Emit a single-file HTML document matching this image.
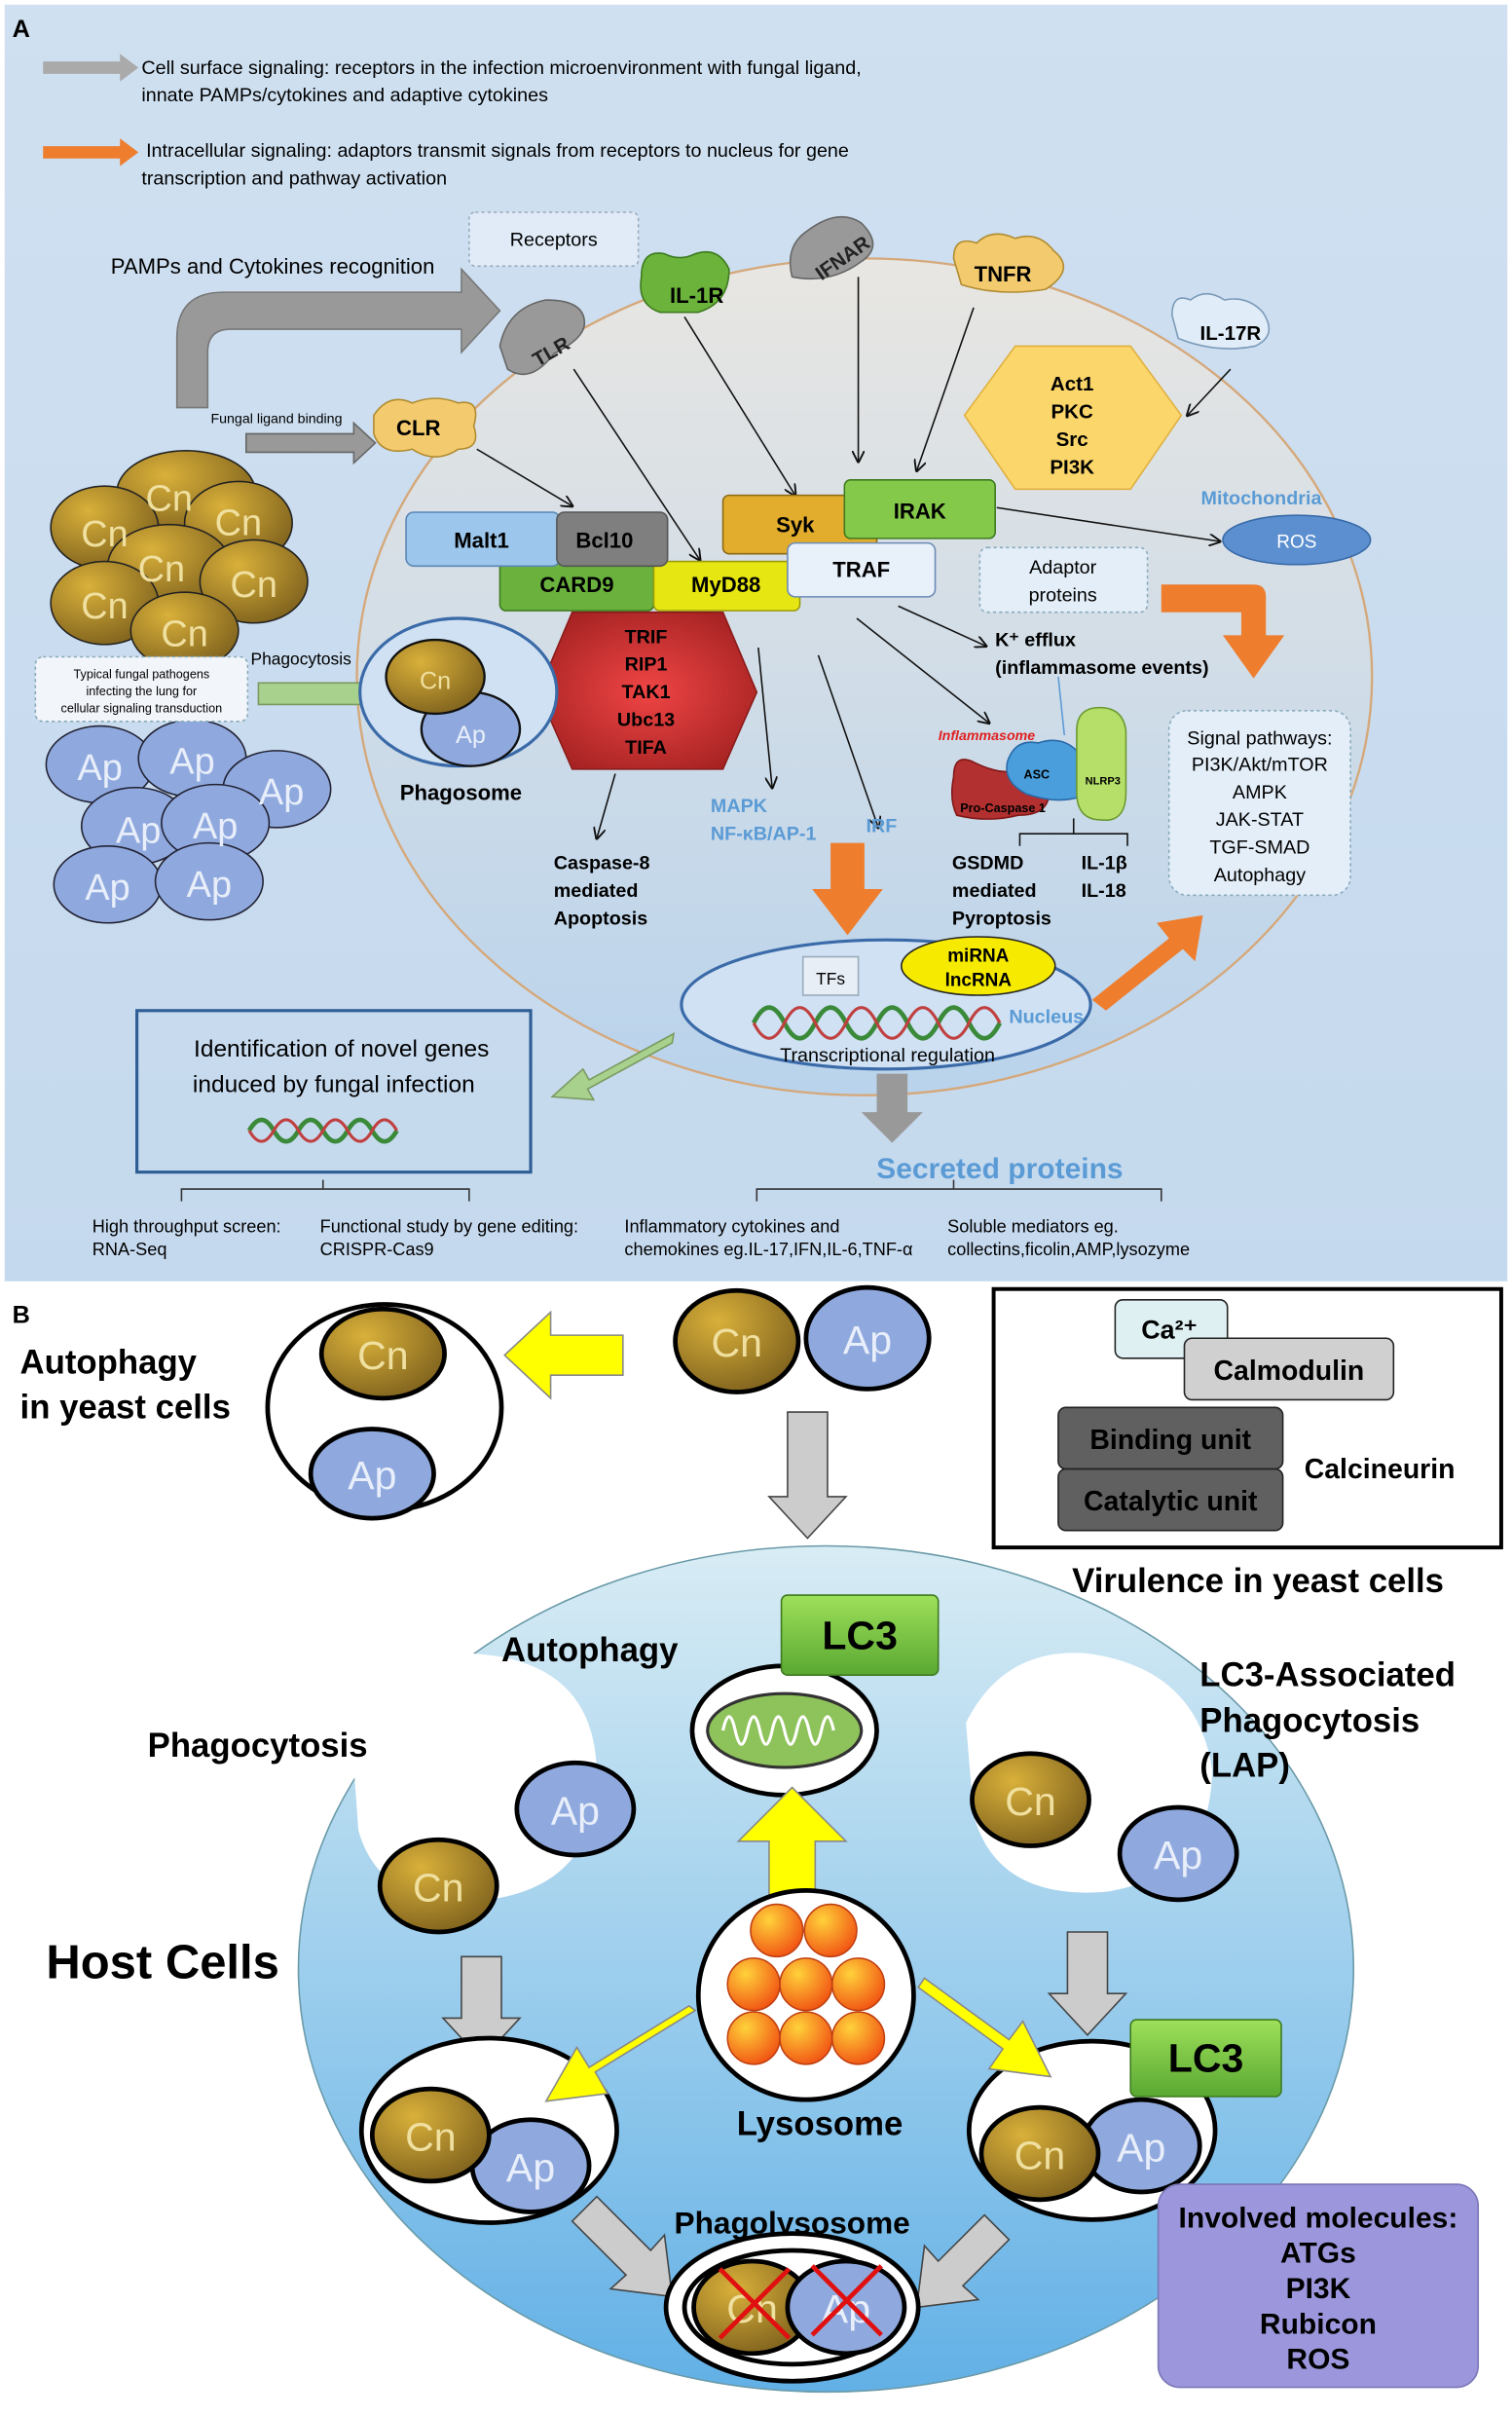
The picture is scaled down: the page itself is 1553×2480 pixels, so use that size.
<!DOCTYPE html>
<html><head><meta charset="utf-8"><style>
html,body{margin:0;padding:0;background:#fff}
svg{display:block}
text{font-family:"Liberation Sans",sans-serif}
</style></head><body>
<svg width="1553" height="2480" viewBox="0 0 983 1570" preserveAspectRatio="none" xmlns="http://www.w3.org/2000/svg">
<defs>
<linearGradient id="bgA" x1="0" y1="0" x2="0" y2="1"><stop offset="0" stop-color="#cfe0f0"/><stop offset="1" stop-color="#c5d9ee"/></linearGradient>
<linearGradient id="cell" x1="0" y1="0" x2="0" y2="1"><stop offset="0" stop-color="#e8e6e2"/><stop offset="1" stop-color="#b9d3ec"/></linearGradient>
<linearGradient id="host" x1="0" y1="0" x2="0" y2="1"><stop offset="0" stop-color="#d8ecf4"/><stop offset="1" stop-color="#62b0e6"/></linearGradient>
<radialGradient id="cn" cx="0.35" cy="0.3" r="0.8"><stop offset="0" stop-color="#d9b03a"/><stop offset="1" stop-color="#7a5e1c"/></radialGradient>
<radialGradient id="red" cx="0.5" cy="0.5" r="0.6"><stop offset="0" stop-color="#f04545"/><stop offset="1" stop-color="#a52222"/></radialGradient>
<radialGradient id="lys" cx="0.35" cy="0.3" r="0.8"><stop offset="0" stop-color="#ffd23a"/><stop offset="1" stop-color="#f04a10"/></radialGradient>
<linearGradient id="lc3" x1="0" y1="0" x2="0" y2="1"><stop offset="0" stop-color="#9ee05a"/><stop offset="1" stop-color="#5aa832"/></linearGradient>
<marker id="ar" markerWidth="8" markerHeight="8" refX="7" refY="4" orient="auto"><path d="M0,0 L8,4 L0,8" fill="none" stroke="#111" stroke-width="1.2"/></marker>
</defs>

<!-- PANEL A -->
<rect x="3" y="3" width="977" height="830" fill="url(#bgA)"/>
<text x="8" y="24" font-size="16" font-weight="bold">A</text>
<path d="M28,40 h50 v-5 l12,9 l-12,9 v-5 h-50z" fill="#aaa"/>
<text x="92" y="48" font-size="12.5">Cell surface signaling: receptors in the infection microenvironment with fungal ligand,</text>
<text x="92" y="66" font-size="12.5">innate PAMPs/cytokines and adaptive cytokines</text>
<path d="M28,95 h50 v-5 l12,9 l-12,9 v-5 h-50z" fill="#ee7d2e"/>
<text x="95" y="102" font-size="12.5">Intracellular signaling: adaptors transmit signals from receptors to nucleus for gene</text>
<text x="92" y="120" font-size="12.5">transcription and pathway activation</text>

<ellipse cx="562" cy="440" rx="330" ry="272" fill="url(#cell)" stroke="#d5a87a" stroke-width="1.5"/>
<text x="72" y="178" font-size="14">PAMPs and Cytokines recognition</text>
<path d="M115,265 v-45 q0,-30 30,-30 h155 v-15 l25,27 l-25,27 v-15 h-150 q-15,0 -15,15 v36z" fill="#999" stroke="#777"/>
<rect x="305" y="138" width="110" height="35" rx="4" fill="#e0ebf7" stroke="#9ab" stroke-dasharray="2,2"/>
<text x="360" y="160" font-size="12.5" text-anchor="middle">Receptors</text>
<text x="137" y="275" font-size="9">Fungal ligand binding</text>
<path d="M160,282 h70 v-7 l14,13 l-14,13 v-7 h-70z" fill="#999" stroke="#666"/>

<!-- receptors -->
<path d="M243,270 q10,-15 25,-8 q15,-6 30,0 q15,-3 10,15 q5,15 -10,15 q-15,10 -30,0 q-20,5 -25,-10z" fill="#f3cb6e" stroke="#b08b30"/>
<text x="272" y="283" font-size="14" font-weight="bold" text-anchor="middle">CLR</text>
<path d="M325,225 q5,-25 30,-30 q25,0 25,15 q0,10 -20,20 q-15,20 -30,10z" fill="#999" stroke="#666"/>
<text x="358" y="233" font-size="13" font-weight="bold" transform="rotate(-30 358 228)" text-anchor="middle" fill="#222">TLR</text>
<path d="M417,180 q0,-18 15,-15 q10,5 20,0 q15,-5 22,10 q0,22 -20,28 h-25 q-15,-5 -12,-23z" fill="#6bb33a" stroke="#3d7a1f"/>
<text x="453" y="197" font-size="14" font-weight="bold" text-anchor="middle">IL-1R</text>
<path d="M515,180 q-5,-20 10,-30 q20,-15 35,-5 q15,15 0,25 q-20,15 -45,10z" fill="#999" stroke="#666"/>
<text x="548" y="172" font-size="13" font-weight="bold" transform="rotate(-35 548 168)" text-anchor="middle" fill="#222">IFNAR</text>
<path d="M620,168 q0,-15 15,-10 q10,-10 25,-3 q15,-5 25,8 q15,12 -5,25 q-30,5 -55,-3z" fill="#f3cb6e" stroke="#b08b30"/>
<text x="652" y="183" font-size="14" font-weight="bold" text-anchor="middle">TNFR</text>
<path d="M762,205 q0,-15 12,-10 q10,-8 22,0 q15,-3 25,8 q10,15 -5,22 q-25,5 -50,-5z" fill="#e0ecf8" stroke="#7a9ab8"/>
<text x="800" y="221" font-size="13" font-weight="bold" text-anchor="middle">IL-17R</text>

<!-- arrows -->
<g stroke="#111" stroke-width="1" marker-end="url(#ar)" fill="none">
<line x1="310" y1="292" x2="372" y2="329"/>
<line x1="373" y1="240" x2="455" y2="364"/>
<line x1="445" y1="206" x2="517" y2="322"/>
<line x1="558" y1="180" x2="558" y2="300"/>
<line x1="633" y1="200" x2="596" y2="306"/>
<line x1="800" y1="240" x2="772" y2="270"/>
<line x1="648" y1="330" x2="793" y2="352"/>
<line x1="400" y1="503" x2="388" y2="545"/>
<line x1="493" y1="421" x2="502" y2="512"/>
<line x1="532" y1="426" x2="571" y2="538"/>
<line x1="557" y1="402" x2="643" y2="470"/>
<line x1="584" y1="394" x2="641" y2="420"/>
</g>
<line x1="688" y1="440" x2="692" y2="478" stroke="#5b9bd5" stroke-width="1"/>

<!-- hexagons -->
<polygon points="660,225 735,225 768,270 735,318 660,318 627,270" fill="#fbd66a" stroke="#e0b040"/>
<g font-size="13" font-weight="bold" text-anchor="middle"><text x="697" y="254">Act1</text><text x="697" y="272">PKC</text><text x="697" y="290">Src</text><text x="697" y="308">PI3K</text></g>
<polygon points="372,398 470,398 492,450 470,500 372,500 350,450" fill="url(#red)" stroke="#8a1a1a"/>
<g font-size="12.5" font-weight="bold" text-anchor="middle"><text x="420" y="418">TRIF</text><text x="420" y="436">RIP1</text><text x="420" y="454">TAK1</text><text x="420" y="472">Ubc13</text><text x="420" y="490">TIFA</text></g>

<!-- adaptor boxes -->
<rect x="325" y="365" width="100" height="32" rx="4" fill="#6ab23d" stroke="#3d7a1f"/>
<text x="375" y="385" font-size="14" font-weight="bold" text-anchor="middle">CARD9</text>
<rect x="425" y="365" width="95" height="32" rx="4" fill="#e6e612" stroke="#9a9a10"/>
<text x="472" y="385" font-size="14" font-weight="bold" text-anchor="middle">MyD88</text>
<rect x="264" y="333" width="100" height="35" rx="5" fill="#9cc6eb" stroke="#5a86b5"/>
<text x="313" y="356" font-size="14" font-weight="bold" text-anchor="middle">Malt1</text>
<rect x="362" y="333" width="72" height="35" rx="5" fill="#7f7f7f" stroke="#555"/>
<text x="393" y="356" font-size="14" font-weight="bold" text-anchor="middle">Bcl10</text>
<rect x="470" y="322" width="100" height="38" rx="4" fill="#e2ac2c" stroke="#8a6a15"/>
<text x="517" y="346" font-size="14" font-weight="bold" text-anchor="middle">Syk</text>
<rect x="512" y="353" width="96" height="35" rx="5" fill="#e8f0fa" stroke="#6a8ab5"/>
<text x="560" y="375" font-size="14" font-weight="bold" text-anchor="middle">TRAF</text>
<rect x="549" y="312" width="98" height="38" rx="4" fill="#85c94a" stroke="#3d7a1f"/>
<text x="598" y="337" font-size="14" font-weight="bold" text-anchor="middle">IRAK</text>

<text x="820" y="328" font-size="12.5" fill="#5b9bd5" text-anchor="middle" font-weight="bold">Mitochondria</text>
<ellipse cx="843" cy="351" rx="48" ry="16" fill="#5b8fd0" stroke="#3a6aa8"/>
<text x="843" y="356" font-size="12" fill="#fff" text-anchor="middle">ROS</text>
<rect x="637" y="356" width="109" height="42" rx="5" fill="#e4eef8" stroke="#8ab" stroke-dasharray="2,2"/>
<text x="691" y="373" font-size="12.5" text-anchor="middle">Adaptor</text>
<text x="691" y="391" font-size="12.5" text-anchor="middle">proteins</text>
<path d="M755,380 h60 q8,0 8,8 v25 h12 l-20,28 l-20,-28 h12 v-15 h-52z" fill="#ee7d2e"/>
<text x="647" y="420" font-size="12.5" font-weight="bold">K⁺ efflux</text>
<text x="647" y="438" font-size="12.5" font-weight="bold">(inflammasome events)</text>

<!-- inflammasome -->
<text x="610" y="481" font-size="9" fill="#e02020" font-style="italic" font-weight="bold">Inflammasome</text>
<path d="M620,505 q0,-15 12,-10 q20,10 30,5 q10,15 20,15 q0,15 -20,15 q-20,5 -40,0 q-5,-10 -2,-25z" fill="#b23030" stroke="#801818"/>
<text x="652" y="528" font-size="8" text-anchor="middle" font-weight="bold">Pro-Caspase 1</text>
<path d="M655,495 q5,-15 20,-12 q15,-5 25,5 q5,15 2,30 q-15,5 -35,-2 q-15,-8 -12,-21z" fill="#4a9edb" stroke="#2a6aa8"/>
<text x="674" y="506" font-size="8" font-weight="bold" text-anchor="middle">ASC</text>
<path d="M700,475 q0,-15 15,-15 q15,0 17,15 v40 q0,20 -16,18 q-16,0 -16,-18z" fill="#b6df6a" stroke="#6a9a30"/>
<text x="717" y="510" font-size="7" font-weight="bold" text-anchor="middle">NLRP3</text>
<path d="M663,550 v-8 h70 v8 M698,542 v-10" stroke="#111" fill="none"/>
<g font-size="12.5" font-weight="bold"><text x="619" y="565">GSDMD</text><text x="619" y="583">mediated</text><text x="619" y="601">Pyroptosis</text><text x="703" y="565">IL-1β</text><text x="703" y="583">IL-18</text>
<text x="360" y="565">Caspase-8</text><text x="360" y="583">mediated</text><text x="360" y="601">Apoptosis</text></g>
<g font-size="12.5" font-weight="bold" fill="#5b9bd5"><text x="462" y="528">MAPK</text><text x="462" y="546">NF-κB/AP-1</text><text x="563" y="541">IRF</text></g>

<rect x="760" y="462" width="118" height="120" rx="12" fill="#e4eef8" stroke="#8ab" stroke-dasharray="2,2"/>
<g font-size="12.5" text-anchor="middle"><text x="819" y="484">Signal pathways:</text><text x="819" y="501">PI3K/Akt/mTOR</text><text x="819" y="519">AMPK</text><text x="819" y="537">JAK-STAT</text><text x="819" y="555">TGF-SMAD</text><text x="819" y="573">Autophagy</text></g>

<!-- nucleus -->
<path d="M540,548 h22 v30 h12 l-23,30 l-23,-30 h12z" fill="#ee7d2e"/>
<ellipse cx="576" cy="653" rx="133" ry="42" fill="#cfe1f3" stroke="#3a6aa8" stroke-width="2"/>
<rect x="522" y="622" width="36" height="25" fill="#e8eef6" stroke="#9ab"/>
<text x="540" y="640" font-size="11" text-anchor="middle">TFs</text>
<ellipse cx="636" cy="628" rx="50" ry="19" fill="#f5ea00" stroke="#222"/>
<text x="636" y="625" font-size="12" font-weight="bold" text-anchor="middle">miRNA</text>
<text x="636" y="641" font-size="12" font-weight="bold" text-anchor="middle">lncRNA</text>
<path d="M490,665 q10,-20 20,0 t20,0 t20,0 t20,0 t20,0 t20,0 t20,0 t20,0" stroke="#3a8a3a" stroke-width="3" fill="none"/>
<path d="M490,665 q10,20 20,0 t20,0 t20,0 t20,0 t20,0 t20,0 t20,0 t20,0" stroke="#c04040" stroke-width="2" fill="none"/>
<text x="656" y="665" font-size="12.5" font-weight="bold" fill="#5b9bd5">Nucleus</text>
<text x="577" y="690" font-size="12.5" text-anchor="middle">Transcriptional regulation</text>
<path d="M710,650 l50,-40 l-8,-10 l30,-5 l-5,30 l-8,-8 l-50,40z" fill="#ee7d2e"/>
<path d="M570,698 h20 v25 h10 l-20,20 l-20,-20 h10z" fill="#999"/>
<text x="650" y="766" font-size="19" font-weight="bold" fill="#5b9bd5" text-anchor="middle">Secreted proteins</text>
<path d="M438,672 l-55,30 l-4,-7 l-20,18 l27,2 l-4,-7 l55,-30z" fill="#a9d18e" stroke="#7a9a60"/>
<rect x="89" y="657" width="256" height="105" fill="none" stroke="#2e5e94" stroke-width="2"/>
<text x="222" y="687" font-size="15.5" text-anchor="middle">Identification of novel genes</text>
<text x="217" y="710" font-size="15.5" text-anchor="middle">induced by fungal infection</text>
<path d="M162,735 q8,-14 16,0 t16,0 t16,0 t16,0 t16,0 t16,0" stroke="#3a8a3a" stroke-width="3" fill="none"/>
<path d="M162,735 q8,14 16,0 t16,0 t16,0 t16,0 t16,0 t16,0" stroke="#c04040" stroke-width="2" fill="none"/>
<path d="M118,781 v-8 h187 v8 M210,773 v-6 M492,781 v-8 h263 v8 M620,773 v-6" stroke="#333" fill="none"/>
<g font-size="11.5"><text x="60" y="801" font-family="Liberation Serif">High throughput screen:</text><text x="60" y="816" font-family="Liberation Serif">RNA-Seq</text>
<text x="208" y="801" font-family="Liberation Serif">Functional study by gene editing:</text><text x="208" y="816" font-family="Liberation Serif">CRISPR-Cas9</text>
<text x="406" y="801" font-family="Liberation Serif">Inflammatory cytokines and</text><text x="406" y="816" font-family="Liberation Serif">chemokines eg.IL-17,IFN,IL-6,TNF-α</text>
<text x="616" y="801" font-family="Liberation Serif">Soluble mediators eg.</text><text x="616" y="816" font-family="Liberation Serif">collectins,ficolin,AMP,lysozyme</text></g>

<!-- fungi cluster -->
<g stroke="#222" stroke-width="1">
<ellipse cx="121" cy="320" rx="45" ry="27" fill="url(#cn)"/><ellipse cx="68" cy="343" rx="35" ry="27" fill="url(#cn)"/><ellipse cx="155" cy="340" rx="35" ry="27" fill="url(#cn)"/><ellipse cx="110" cy="368" rx="40" ry="27" fill="url(#cn)"/><ellipse cx="165" cy="378" rx="35" ry="27" fill="url(#cn)"/><ellipse cx="68" cy="392" rx="35" ry="27" fill="url(#cn)"/><ellipse cx="120" cy="410" rx="35" ry="25" fill="url(#cn)"/>
</g>
<g font-size="24" fill="#f0e0a0" text-anchor="middle"><text x="110" y="332">Cn</text><text x="68" y="355">Cn</text><text x="155" y="348">Cn</text><text x="105" y="378">Cn</text><text x="165" y="388">Cn</text><text x="68" y="402">Cn</text><text x="120" y="420">Cn</text></g>
<g stroke="#223" fill="#8fa9de">
<ellipse cx="65" cy="497" rx="35" ry="25"/><ellipse cx="125" cy="493" rx="35" ry="25"/><ellipse cx="180" cy="513" rx="35" ry="25"/><ellipse cx="88" cy="537" rx="35" ry="25"/><ellipse cx="140" cy="535" rx="35" ry="25"/><ellipse cx="70" cy="575" rx="35" ry="25"/><ellipse cx="136" cy="573" rx="35" ry="25"/></g>
<g font-size="24" fill="#e8eefa" text-anchor="middle"><text x="65" y="507">Ap</text><text x="125" y="503">Ap</text><text x="183" y="523">Ap</text><text x="90" y="548">Ap</text><text x="140" y="545">Ap</text><text x="70" y="585">Ap</text><text x="136" y="583">Ap</text></g>
<rect x="23" y="427" width="138" height="42" rx="5" fill="#f2f5fa" stroke="#8ab" stroke-dasharray="2,2"/>
<g font-size="8" text-anchor="middle"><text x="92" y="441">Typical fungal pathogens</text><text x="92" y="452">infecting the lung for</text><text x="92" y="463">cellular signaling transduction</text></g>
<text x="163" y="432" font-size="11">Phagocytosis</text>
<path d="M168,444 h70 v-7 l14,14 l-14,14 v-7 h-70z" fill="#a9d18e" stroke="#7a9a60"/>
<ellipse cx="298" cy="450" rx="64" ry="48" fill="#cfe1f3" stroke="#3a6aa8" stroke-width="2"/>
<ellipse cx="306" cy="474" rx="32" ry="24" fill="#8fa9de" stroke="#111" stroke-width="1.5"/>
<ellipse cx="283" cy="440" rx="32" ry="24" fill="url(#cn)" stroke="#111" stroke-width="1.5"/>
<text x="283" y="448" font-size="16" fill="#f0e0a0" text-anchor="middle">Cn</text>
<text x="306" y="483" font-size="16" fill="#e8eefa" text-anchor="middle">Ap</text>
<text x="260" y="520" font-size="14" font-weight="bold">Phagosome</text>

<!-- PANEL B -->
<text x="8" y="860" font-size="16" font-weight="bold">B</text>
<text x="13" y="893" font-size="22" font-weight="bold">Autophagy</text>
<text x="13" y="922" font-size="22" font-weight="bold">in yeast cells</text>
<ellipse cx="250" cy="915" rx="76" ry="67" fill="#fff" stroke="#000" stroke-width="3"/>
<ellipse cx="249" cy="880" rx="40" ry="29" fill="url(#cn)" stroke="#000" stroke-width="3"/>
<text x="249" y="890" font-size="26" fill="#f0e0a0" text-anchor="middle">Cn</text>
<ellipse cx="242" cy="958" rx="40" ry="29" fill="#8fa9de" stroke="#000" stroke-width="3"/>
<text x="242" y="968" font-size="26" fill="#e8eefa" text-anchor="middle">Ap</text>
<path d="M405,868 h-47 v-15 l-30,28 l30,28 v-15 h47z" fill="#ffff00" stroke="#888"/>
<ellipse cx="479" cy="872" rx="40" ry="33" fill="url(#cn)" stroke="#000" stroke-width="3"/>
<text x="479" y="882" font-size="26" fill="#f0e0a0" text-anchor="middle">Cn</text>
<ellipse cx="564" cy="870" rx="40" ry="33" fill="#8fa9de" stroke="#000" stroke-width="3"/>
<text x="564" y="880" font-size="26" fill="#e8eefa" text-anchor="middle">Ap</text>
<path d="M512,918 h26 v55 h12 l-25,27 l-25,-27 h12z" fill="#ccc" stroke="#444"/>
<rect x="646" y="838" width="330" height="168" fill="#fff" stroke="#000" stroke-width="2.5"/>
<rect x="725" y="845" width="73" height="38" rx="5" fill="#dff0f2" stroke="#222"/>
<text x="742" y="870" font-size="17" font-weight="bold">Ca²⁺</text>
<rect x="770" y="870" width="136" height="40" rx="5" fill="#d0d0d0" stroke="#222"/>
<text x="838" y="897" font-size="18" font-weight="bold" text-anchor="middle">Calmodulin</text>
<rect x="688" y="915" width="146" height="40" rx="5" fill="#606060" stroke="#222"/>
<text x="761" y="942" font-size="18" font-weight="bold" text-anchor="middle">Binding unit</text>
<rect x="688" y="955" width="146" height="40" rx="5" fill="#606060" stroke="#222"/>
<text x="761" y="982" font-size="18" font-weight="bold" text-anchor="middle">Catalytic unit</text>
<text x="848" y="961" font-size="18" font-weight="bold">Calcineurin</text>
<text x="697" y="1035" font-size="22" font-weight="bold">Virulence in yeast cells</text>

<ellipse cx="537" cy="1280" rx="343" ry="275" fill="url(#host)" stroke="#6a9aa8"/>
<text x="30" y="1286" font-size="31" font-weight="bold">Host Cells</text>
<!-- white phagocytosis lobes -->
<path d="M228,1120 q10,-50 80,-45 q80,5 80,80 q0,70 -70,80 q-70,8 -85,-45z" fill="#fff"/>
<path d="M628,1120 q25,-50 80,-45 q70,10 80,75 q0,70 -70,80 q-70,5 -85,-50z" fill="#fff"/>
<text x="96" y="1142" font-size="22" font-weight="bold">Phagocytosis</text>
<text x="326" y="1080" font-size="22" font-weight="bold">Autophagy</text>
<text x="780" y="1096" font-size="22" font-weight="bold">LC3-Associated</text>
<text x="780" y="1126" font-size="22" font-weight="bold">Phagocytosis</text>
<text x="780" y="1155" font-size="22" font-weight="bold">(LAP)</text>
<ellipse cx="374" cy="1176" rx="38" ry="30" fill="#8fa9de" stroke="#000" stroke-width="3"/><text x="374" y="1186" font-size="26" fill="#e8eefa" text-anchor="middle">Ap</text>
<ellipse cx="285" cy="1226" rx="38" ry="30" fill="url(#cn)" stroke="#000" stroke-width="3"/><text x="285" y="1236" font-size="26" fill="#f0e0a0" text-anchor="middle">Cn</text>
<ellipse cx="670" cy="1170" rx="38" ry="30" fill="url(#cn)" stroke="#000" stroke-width="3"/><text x="670" y="1180" font-size="26" fill="#f0e0a0" text-anchor="middle">Cn</text>
<ellipse cx="766" cy="1205" rx="38" ry="30" fill="#8fa9de" stroke="#000" stroke-width="3"/><text x="766" y="1215" font-size="26" fill="#e8eefa" text-anchor="middle">Ap</text>
<!-- mitochondria autophagosome -->
<ellipse cx="510" cy="1125" rx="60" ry="42" fill="#fff" stroke="#000" stroke-width="3"/>
<ellipse cx="510" cy="1125" rx="50" ry="24" fill="#8ec25a" stroke="#333" stroke-width="2"/>
<path d="M470,1125 q4,-18 8,0 t8,0 t8,0 t8,0 t8,0 t8,0 t8,0 t8,0 t8,0" stroke="#fff" stroke-width="2" fill="none"/>
<rect x="508" y="1037" width="102" height="52" rx="4" fill="url(#lc3)" stroke="#3d7a1f"/>
<text x="559" y="1072" font-size="26" font-weight="bold" text-anchor="middle">LC3</text>
<path d="M500,1245 v-48 h-20 l35,-35 l35,35 h-20 v48z" fill="#ffff00" stroke="#888"/>
<ellipse cx="524" cy="1297" rx="70" ry="68" fill="#fff" stroke="#000" stroke-width="3"/>
<g fill="url(#lys)" stroke="#c04010">
<circle cx="505" cy="1255" r="17"/><circle cx="540" cy="1255" r="17"/><circle cx="490" cy="1290" r="17"/><circle cx="524" cy="1290" r="17"/><circle cx="558" cy="1290" r="17"/><circle cx="490" cy="1325" r="17"/><circle cx="524" cy="1325" r="17"/><circle cx="558" cy="1325" r="17"/></g>
<text x="533" y="1388" font-size="22" font-weight="bold" text-anchor="middle">Lysosome</text>
<!-- phagosomes -->
<path d="M300,1272 h26 v40 h12 l-25,27 l-25,-27 h12z" fill="#ccc" stroke="#444"/>
<path d="M694,1256 h26 v40 h12 l-25,27 l-25,-27 h12z" fill="#ccc" stroke="#444"/>
<ellipse cx="318" cy="1385" rx="83" ry="60" fill="#fff" stroke="#000" stroke-width="3"/>
<ellipse cx="345" cy="1408" rx="38" ry="30" fill="#8fa9de" stroke="#000" stroke-width="3"/><text x="345" y="1418" font-size="26" fill="#e8eefa" text-anchor="middle">Ap</text>
<ellipse cx="280" cy="1388" rx="38" ry="30" fill="url(#cn)" stroke="#000" stroke-width="3"/><text x="280" y="1398" font-size="26" fill="#f0e0a0" text-anchor="middle">Cn</text>
<ellipse cx="710" cy="1385" rx="80" ry="58" fill="#fff" stroke="#000" stroke-width="3"/>
<ellipse cx="742" cy="1395" rx="38" ry="30" fill="#8fa9de" stroke="#000" stroke-width="3"/><text x="742" y="1405" font-size="26" fill="#e8eefa" text-anchor="middle">Ap</text>
<ellipse cx="676" cy="1400" rx="38" ry="30" fill="url(#cn)" stroke="#000" stroke-width="3"/><text x="676" y="1410" font-size="26" fill="#f0e0a0" text-anchor="middle">Cn</text>
<rect x="735" y="1313" width="98" height="50" rx="4" fill="url(#lc3)" stroke="#3d7a1f"/>
<text x="784" y="1347" font-size="26" font-weight="bold" text-anchor="middle">LC3</text>
<!-- yellow diagonal arrows -->
<path d="M452,1307 l-65,40 l8,14 l-40,5 l20,-35 l8,13 l65,-40z" fill="#ffff00" stroke="#888"/>
<path d="M597,1292 l55,40 l-9,13 l40,5 l-18,-36 l-9,12 l-55,-40z" fill="#ffff00" stroke="#888"/>
<!-- grey diagonals to phagolysosome -->
<path d="M388,1428 l35,35 l9,-10 l5,40 l-40,-5 l10,-9 l-35,-35z" fill="#ccc" stroke="#444"/>
<path d="M640,1440 l-30,30 l-9,-10 l-5,40 l40,-5 l-10,-9 l30,-30z" fill="#ccc" stroke="#444"/>
<text x="515" y="1452" font-size="20" font-weight="bold" text-anchor="middle">Phagolysosome</text>
<ellipse cx="515" cy="1500" rx="82" ry="48" fill="#fff" stroke="#000" stroke-width="3"/>
<ellipse cx="515" cy="1500" rx="70" ry="37" fill="none" stroke="#000" stroke-width="3"/>
<ellipse cx="489" cy="1500" rx="38" ry="30" fill="url(#cn)" stroke="#000" stroke-width="3"/><text x="489" y="1510" font-size="26" fill="#f0e0a0" text-anchor="middle">Cn</text>
<ellipse cx="550" cy="1500" rx="38" ry="30" fill="#8fa9de" stroke="#000" stroke-width="3"/><text x="550" y="1510" font-size="26" fill="#e8eefa" text-anchor="middle">Ap</text>
<path d="M468,1475 l45,45 M513,1475 l-45,45 M528,1473 l45,45 M573,1473 l-45,45" stroke="#e01010" stroke-width="3"/>
<rect x="753" y="1420" width="208" height="132" rx="14" fill="#9c97dc" stroke="#7a76b8"/>
<g font-size="19" font-weight="bold" text-anchor="middle"><text x="857" y="1448">Involved molecules:</text><text x="857" y="1471">ATGs</text><text x="857" y="1494">PI3K</text><text x="857" y="1517">Rubicon</text><text x="857" y="1540">ROS</text></g>
</svg>
</body></html>
